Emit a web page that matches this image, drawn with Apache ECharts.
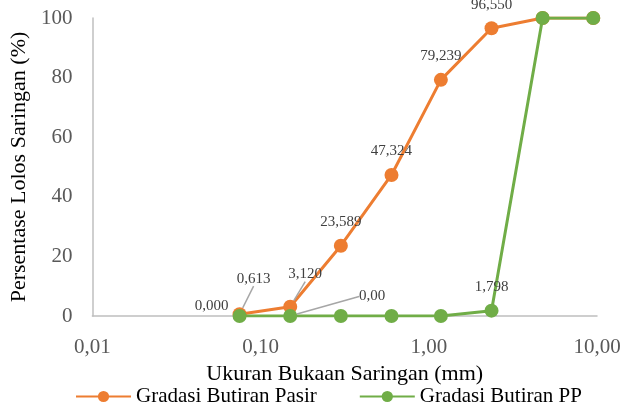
<!DOCTYPE html>
<html>
<head>
<meta charset="utf-8">
<script src="https://cdn.jsdelivr.net/npm/echarts@6/dist/echarts.min.js"></script>
<style>
  html, body { margin: 0; padding: 0; background: #ffffff; }
  #chart { width: 638px; height: 407px; }
</style>
</head>
<body>
<div id="chart"></div>
<script>
// Sieve opening sizes (mm)
const sieveSizes = [0.075, 0.15, 0.3, 0.6, 1.18, 2.36, 4.75, 9.5];

// Percent passing – sand gradation
const pasirValues = [0.613, 3.120, 23.589, 47.324, 79.239, 96.550, 100, 100];
const pasirDecimals = [3, 3, 3, 3, 3, 3, 0, 0];
const pasirShowLabel = [true, true, true, true, true, true, false, false];

// Percent passing – PP gradation
const ppValues = [0.000, 0.00, 0.00, 0.00, 0.00, 1.798, 100, 100];
const ppDecimals = [3, 2, 2, 2, 2, 3, 0, 0];
const ppShowLabel = [true, true, false, false, false, true, true, true];

// X tick labels are drawn from the log axis values
const xTickDecimals = 2;

const FONT = "'Liberation Serif', 'Times New Roman', serif";
const ORANGE = '#ED7D31';
const GREEN = '#70AD47';
const AXIS_GREY = '#BFBFBF';
const LEADER_GREY = '#A6A6A6';

function fmt(v, d) {
  return v.toFixed(d).replace('.', ',');
}

// Label shifts (and leader lines) for the crowded points near the origin
const pasirLabelShift = { 0: [14, -12], 1: [15, -9] };
const pasirLeaderLines = { 0: true, 1: true };
const ppLabelShift = { 0: [0, -10], 1: [82, 4] };
const ppLeaderLines = { 1: true };

function buildData(values, decimals, showFlags, leaders, leftIdx) {
  return sieveSizes.map((x, i) => {
    const item = {
      value: [x, values[i]],
      label: {
        show: showFlags[i],
        formatter: fmt(values[i], decimals[i])
      }
    };
    if (i === leftIdx) {
      item.label.position = 'left';
      item.label.distance = 4;
    }
    if (leaders[i]) {
      item.labelLine = { show: true, lineStyle: { color: LEADER_GREY, width: 1.5 } };
    }
    return item;
  });
}

const chart = echarts.init(document.getElementById('chart'));

const labelBase = {
  show: true,
  position: 'top',
  distance: 9,
  color: '#404040',
  fontFamily: FONT,
  fontSize: 15
};

chart.setOption({
  animation: false,
  backgroundColor: '#ffffff',
  textStyle: { fontFamily: FONT },
  grid: { left: 91, right: 41, top: 18, bottom: 91, containLabel: false },
  legend: {
    left: 70,
    top: 381,
    itemWidth: 55,
    itemHeight: 14,
    itemGap: 42,
    textStyle: { fontFamily: FONT, fontSize: 21, color: '#000000' },
    data: ['Gradasi Butiran Pasir', 'Gradasi Butiran PP']
  },
  xAxis: {
    type: 'log',
    logBase: 10,
    min: 0.01,
    max: 10,
    name: 'Ukuran Bukaan Saringan (mm)',
    nameLocation: 'middle',
    nameGap: 46,
    nameTextStyle: { fontFamily: FONT, fontSize: 22, color: '#000000' },
    axisLine: { show: true, lineStyle: { color: AXIS_GREY, width: 1.5 } },
    axisTick: { show: false },
    splitLine: { show: false },
    minorTick: { show: false },
    axisLabel: {
      color: '#595959',
      fontFamily: FONT,
      fontSize: 21,
      margin: 21,
      formatter: v => fmt(v, xTickDecimals)
    }
  },
  yAxis: {
    type: 'value',
    min: 0,
    max: 100,
    interval: 20,
    name: 'Persentase Lolos Saringan (%)',
    nameLocation: 'middle',
    nameGap: 50,
    nameTextStyle: { fontFamily: FONT, fontSize: 22, color: '#000000' },
    axisLine: { show: true, lineStyle: { color: AXIS_GREY, width: 1.5 } },
    axisTick: { show: false },
    splitLine: { show: false },
    axisLabel: { color: '#595959', fontFamily: FONT, fontSize: 21, margin: 20 }
  },
  series: [
    {
      name: 'Gradasi Butiran Pasir',
      type: 'line',
      symbol: 'circle',
      symbolSize: 14,
      itemStyle: { color: ORANGE },
      lineStyle: { color: ORANGE, width: 3 },
      label: labelBase,
      labelLine: { show: false },
      labelLayout: p => {
        const s = pasirLabelShift[p.dataIndex];
        return s ? { dx: s[0], dy: s[1] } : {};
      },
      data: buildData(pasirValues, pasirDecimals, pasirShowLabel, pasirLeaderLines, -1),
      z: 2
    },
    {
      name: 'Gradasi Butiran PP',
      type: 'line',
      symbol: 'circle',
      symbolSize: 14,
      itemStyle: { color: GREEN },
      lineStyle: { color: GREEN, width: 3 },
      label: labelBase,
      labelLine: { show: false },
      labelLayout: p => {
        const s = ppLabelShift[p.dataIndex];
        return s ? { dx: s[0], dy: s[1] } : {};
      },
      data: buildData(ppValues, ppDecimals, ppShowLabel, ppLeaderLines, 0),
      z: 3
    }
  ]
});
</script>
</body>
</html>
